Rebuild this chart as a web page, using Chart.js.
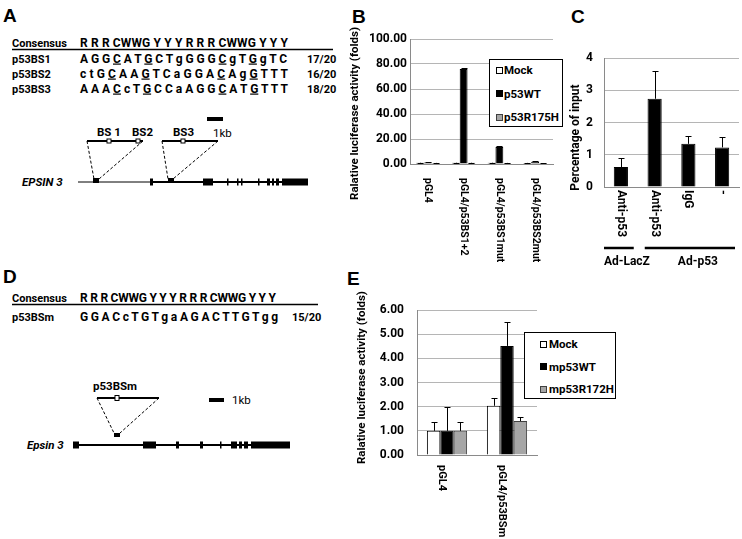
<!DOCTYPE html>
<html>
<head>
<meta charset="utf-8">
<script src="https://cdn.jsdelivr.net/npm/chart.js@4.4.1/dist/chart.umd.min.js"></script>
<style>
  html, body { margin: 0; padding: 0; background: #fff; }
  body { width: 742px; height: 539px; position: relative; overflow: hidden; font-family: Roboto, 'Open Sans', sans-serif; }
  .abs { position: absolute; }
  .legend { position: absolute; border: 1px solid #000; background: #fff; box-sizing: border-box; font: bold 11.5px Roboto, sans-serif; color: #000; }
  .legend__item { position: absolute; left: 0; height: 14px; line-height: 14px; white-space: nowrap; }
  .legend__swatch { position: absolute; top: 50%; box-sizing: border-box; border: 1px solid #000; }
  .legend__text { position: absolute; top: 0; }
  #legendB { left: 489px; top: 59px; width: 74px; height: 68px; }
  #legendE { left: 524px; top: 332px; width: 92px; height: 67px; }
</style>
</head>
<body>

<!-- Panels A and D: binding sites and gene maps -->
<svg class="abs" style="left:0;top:0" width="742" height="539" font-family="Roboto, sans-serif" font-size="11">
  <g font-family="'Liberation Sans', Arial, sans-serif" font-weight="bold" font-size="19">
    <text x="3" y="22">A</text>
    <text x="352" y="23">B</text>
    <text x="571" y="23">C</text>
    <text x="3" y="283">D</text>
    <text x="347" y="285">E</text>
  </g>

  <!-- A: sequences -->
  <g font-weight="bold">
    <text x="12" y="47">Consensus</text>
    <text x="12" y="62.5">p53BS1</text>
    <text x="12" y="77.5">p53BS2</text>
    <text x="12" y="92.5">p53BS3</text>
    <text x="307" y="62.5">17/20</text>
    <text x="307" y="77.5">16/20</text>
    <text x="307" y="92.5">18/20</text>
  </g>
  <g font-weight="bold" font-size="12">
    <text x="80" y="47" textLength="208" lengthAdjust="spacing">R R R CWWG Y Y Y R R R CWWG Y Y Y</text>
    <text x="80" y="62.5" textLength="207" lengthAdjust="spacing">A G G <tspan style="text-decoration:underline">C</tspan> A T <tspan style="text-decoration:underline">G</tspan> C T g G G G <tspan style="text-decoration:underline">C</tspan> g T <tspan style="text-decoration:underline">G</tspan> g T C</text>
    <text x="80" y="77.5" textLength="208" lengthAdjust="spacing">c t G <tspan style="text-decoration:underline">C</tspan> A A <tspan style="text-decoration:underline">G</tspan> T C a G G A <tspan style="text-decoration:underline">C</tspan> A g <tspan style="text-decoration:underline">G</tspan> T T T</text>
    <text x="80" y="92.5" textLength="208" lengthAdjust="spacing">A A A <tspan style="text-decoration:underline">C</tspan> c T <tspan style="text-decoration:underline">G</tspan> C C a A G G <tspan style="text-decoration:underline">C</tspan> A T <tspan style="text-decoration:underline">G</tspan> T T T</text>
  </g>
  <line x1="12" y1="49.5" x2="333" y2="49.5" stroke="#000" stroke-width="1.5"/>

  <!-- A: gene map -->
  <rect x="207" y="117" width="16" height="4"/>
  <text x="213" y="137" font-size="11.5">1kb</text>
  <g font-weight="bold" font-size="11.5">
    <text x="97" y="136">BS 1</text>
    <text x="132" y="136">BS2</text>
    <text x="173" y="136">BS3</text>
  </g>
  <g stroke="#000" stroke-width="2">
    <line x1="87" y1="141" x2="143" y2="141"/>
    <line x1="162" y1="141" x2="218" y2="141"/>
  </g>
  <g fill="#fff" stroke="#000" stroke-width="1">
    <rect x="107" y="139" width="4" height="4"/>
    <rect x="136" y="139" width="4" height="4"/>
    <rect x="181" y="139" width="4" height="4"/>
  </g>
  <g stroke="#000" stroke-width="1" stroke-dasharray="3,2">
    <line x1="87" y1="141" x2="94" y2="179"/>
    <line x1="143" y1="141" x2="99" y2="179"/>
    <line x1="162" y1="141" x2="168" y2="179"/>
    <line x1="218" y1="141" x2="173" y2="179"/>
  </g>
  <rect x="93" y="178" width="6" height="5"/>
  <rect x="168" y="178" width="6" height="5"/>
  <line x1="78" y1="182" x2="150" y2="182" stroke="#000" stroke-width="1"/>
  <line x1="150" y1="182" x2="308" y2="182" stroke="#000" stroke-width="2"/>
  <g>
    <rect x="150" y="178.5" width="3" height="7"/>
    <rect x="203" y="178.5" width="10" height="7"/>
    <rect x="227" y="178.5" width="1.5" height="7"/>
    <rect x="237" y="178.5" width="1.5" height="7"/>
    <rect x="241" y="178.5" width="1.5" height="7"/>
    <rect x="258" y="178.5" width="1.5" height="7"/>
    <rect x="267" y="178.5" width="3" height="7"/>
    <rect x="272" y="178.5" width="2" height="7"/>
    <rect x="276" y="178.5" width="3" height="7"/>
    <rect x="282" y="178.5" width="26" height="7"/>
  </g>
  <text x="22" y="186" font-weight="bold" font-style="italic" font-size="11.5">EPSIN 3</text>

  <!-- D: sequence -->
  <g font-weight="bold">
    <text x="12" y="302">Consensus</text>
    <text x="12" y="321">p53BSm</text>
    <text x="292" y="321">15/20</text>
  </g>
  <g font-weight="bold" font-size="12">
    <text x="80" y="302" textLength="196" lengthAdjust="spacing">R R R CWWG Y Y Y R R R CWWG Y Y Y</text>
    <text x="80" y="321" textLength="198" lengthAdjust="spacing">G G A C c T G T g a A G A C T T G T g g</text>
  </g>
  <line x1="12" y1="304.5" x2="318" y2="304.5" stroke="#000" stroke-width="1.5"/>

  <!-- D: gene map -->
  <text x="93" y="390" font-weight="bold" font-size="11.5">p53BSm</text>
  <line x1="97" y1="398" x2="159" y2="398" stroke="#000" stroke-width="2"/>
  <rect x="115" y="395.5" width="4" height="5" fill="#fff" stroke="#000" stroke-width="1"/>
  <rect x="209" y="398" width="15" height="4"/>
  <text x="232" y="404" font-size="11.5">1kb</text>
  <g stroke="#000" stroke-width="1" stroke-dasharray="3,2">
    <line x1="97" y1="398" x2="114" y2="433"/>
    <line x1="159" y1="398" x2="120" y2="433"/>
  </g>
  <rect x="114" y="433" width="6" height="4"/>
  <line x1="73" y1="445" x2="290" y2="445" stroke="#000" stroke-width="2"/>
  <g>
    <rect x="73" y="441.5" width="6" height="7"/>
    <rect x="143" y="441.5" width="13" height="7"/>
    <rect x="176" y="441.5" width="3" height="7"/>
    <rect x="200" y="441.5" width="3" height="7"/>
    <rect x="220" y="441.5" width="1.5" height="7"/>
    <rect x="231" y="441.5" width="6" height="7"/>
    <rect x="239" y="441.5" width="3" height="7"/>
    <rect x="244" y="441.5" width="4" height="7"/>
    <rect x="251" y="441.5" width="39" height="7"/>
  </g>
  <text x="27" y="449" font-weight="bold" font-style="italic" font-size="11.5">Epsin 3</text>
</svg>

<canvas id="chartB" class="abs" style="left:340px;top:25px" width="225" height="245"></canvas>
<canvas id="chartC" class="abs" style="left:560px;top:40px" width="182" height="240"></canvas>
<canvas id="chartE" class="abs" style="left:340px;top:290px" width="290" height="249"></canvas>
<div id="legendB" class="legend"></div>
<div id="legendE" class="legend"></div>

<script>
// ── Panel B: luciferase reporter, p53 binding sites ──
const bCategories = ['pGL4', 'pGL4/p53BS1+2', 'pGL4/p53BS1mut', 'pGL4/p53BS2mut'];
const bMock = [1.0, 1.0, 1.0, 0.9];
const bMockErr = [0.2, 0.2, 0.2, 0.1];
const bWT = [1.3, 76.0, 13.7, 1.9];
const bWTErr = [0.3, 0.7, 0.7, 0.6];
const bR175H = [0.9, 1.0, 0.9, 0.8];
const bR175HErr = [0.2, 0.1, 0.1, 0.1];
const bTicks = [0, 20, 40, 60, 80, 100];

// ── Panel C: ChIP, percentage of input ──
const cCategories = ['Anti-p53', 'Anti-p53', 'IgG', '-'];
const cValues = [0.62, 2.74, 1.34, 1.23];
const cErr = [0.27, 0.87, 0.24, 0.31];
const cGroups = ['Ad-LacZ', 'Ad-p53'];
const cGroupSpans = [[0, 0], [1, 3]];
const cTicks = [0, 1, 2, 3, 4];

// ── Panel E: luciferase reporter, mouse p53 ──
const eCategories = ['pGL4', 'pGL4/p53BSm'];
const eMock = [1.0, 2.04];
const eMockErr = [0.37, 0.33];
const eWT = [1.0, 4.52];
const eWTErr = [1.0, 1.0];
const eR172H = [1.0, 1.41];
const eR172HErr = [0.35, 0.16];
const eTicks = [0, 1, 2, 3, 4, 5, 6];

const FONT = 'Roboto';
const GRID = '#b5b5b5';
const AXIS = '#8a8a8a';

// ── error bars: upper whisker only ──
const errorBars = {
  id: 'errorBars',
  afterDatasetsDraw(chart) {
    const { ctx, scales: { y } } = chart;
    ctx.save();
    ctx.strokeStyle = '#000';
    ctx.lineWidth = 1;
    chart.data.datasets.forEach((ds, di) => {
      if (!ds.errors) return;
      chart.getDatasetMeta(di).data.forEach((bar, i) => {
        const top = Math.round(y.getPixelForValue(ds.data[i] + ds.errors[i])) + 0.5;
        const x = Math.round(bar.x) + 0.5;
        ctx.beginPath();
        ctx.moveTo(x, bar.y);
        ctx.lineTo(x, top);
        ctx.moveTo(x - 3, top);
        ctx.lineTo(x + 3, top);
        ctx.stroke();
      });
    });
    ctx.restore();
  }
};

// ── category labels reading downwards, plus optional group bars ──
const downLabels = {
  id: 'downLabels',
  afterDraw(chart, args, opts) {
    const { ctx } = chart;
    const xs = chart.scales.x;
    ctx.save();
    ctx.font = `bold ${opts.size}px ${FONT}`;
    ctx.fillStyle = '#000';
    ctx.textAlign = 'left';
    ctx.textBaseline = 'middle';
    chart.data.labels.forEach((label, i) => {
      ctx.save();
      ctx.translate(xs.getPixelForTick(i) + (opts.dx || 0), xs.top + opts.gap);
      ctx.rotate(Math.PI / 2);
      ctx.fillText(label, 0, 0);
      ctx.restore();
    });
    if (opts.groups) {
      const half = (xs.getPixelForTick(1) - xs.getPixelForTick(0)) / 2;
      ctx.lineWidth = 2.5;
      ctx.strokeStyle = '#000';
      ctx.textAlign = 'center';
      ctx.font = `bold 12px ${FONT}`;
      opts.groups.forEach((name, g) => {
        const [from, to] = opts.spans[g];
        const x0 = xs.getPixelForTick(from) - half + (g === 0 ? 0 : 7);
        const x1 = xs.getPixelForTick(to) + half - 4;
        ctx.beginPath();
        ctx.moveTo(x0, xs.top + opts.lineGap);
        ctx.lineTo(x1, xs.top + opts.lineGap);
        ctx.stroke();
        ctx.fillText(name, (x0 + x1) / 2 + opts.textDx, xs.top + opts.textGap);
      });
    }
    ctx.restore();
  }
};

// ── rotated y-axis title, placed like the spreadsheet original ──
const sideTitle = {
  id: 'sideTitle',
  afterDraw(chart, args, opts) {
    const { ctx, chartArea } = chart;
    ctx.save();
    ctx.font = `bold ${opts.size}px ${FONT}`;
    ctx.fillStyle = '#000';
    ctx.textAlign = 'center';
    ctx.textBaseline = 'middle';
    ctx.translate(chartArea.left - opts.dx, (chartArea.top + chartArea.bottom) / 2 + opts.dy);
    ctx.rotate(-Math.PI / 2);
    ctx.fillText(chart.options.scales.y.title.text, 0, 0);
    ctx.restore();
  }
};

function barOptions(o) {
  return {
    responsive: false,
    animation: false,
    devicePixelRatio: 1,
    layout: { padding: { top: o.padTop, right: o.padRight, left: 0, bottom: 0 } },
    plugins: {
      legend: { display: false },
      tooltip: { enabled: false },
      downLabels: o.labels,
      sideTitle: o.title
    },
    scales: {
      x: {
        ticks: { display: false },
        grid: { display: false },
        border: { color: AXIS, width: 1 },
        afterFit: s => { s.height = o.xHeight; }
      },
      y: {
        min: o.ticks[0],
        max: o.ticks[o.ticks.length - 1],
        afterBuildTicks: s => { s.ticks = o.ticks.map(v => ({ value: v })); },
        afterFit: s => { s.width = o.yWidth; },
        ticks: {
          padding: o.tickPad,
          color: '#000',
          font: { family: FONT, size: 12, weight: 'bold' },
          callback: o.fmt
        },
        grid: { color: GRID, lineWidth: 1, drawTicks: false },
        border: { color: AXIS, width: 1 },
        title: { display: false, text: o.yTitle }
      }
    }
  };
}

function buildLegend(chart, el, rowTop, rowStep, swatchX, swatchSize, textX) {
  chart.data.datasets.forEach((ds, i) => {
    const item = document.createElement('div');
    item.className = 'legend__item';
    item.style.top = (rowTop + i * rowStep - 7) + 'px';
    item.innerHTML = `
      <span class="legend__swatch" style="left:${swatchX}px;width:${swatchSize}px;height:${swatchSize}px;margin-top:${-swatchSize / 2}px;background:${ds.backgroundColor};border-color:${ds.borderColor}"></span>
      <span class="legend__text" style="left:${textX}px">${ds.label}</span>`;
    el.appendChild(item);
  });
}

const mockStyle = { backgroundColor: '#ffffff', borderColor: '#000000', borderWidth: 1 };
const wtStyle = { backgroundColor: '#000000', borderColor: '#000000', borderWidth: 1 };
const mutStyle = { backgroundColor: '#a6a6a6', borderColor: '#404040', borderWidth: 1 };

// Chart B
const chartB = new Chart(document.getElementById('chartB'), {
  type: 'bar',
  data: {
    labels: bCategories,
    datasets: [
      { label: 'Mock', data: bMock, errors: bMockErr, ...mockStyle },
      { label: 'p53WT', data: bWT, errors: bWTErr, ...wtStyle },
      { label: 'p53R175H', data: bR175H, errors: bR175HErr, ...mutStyle }
    ].map(d => ({ ...d, categoryPercentage: 0.66, barPercentage: 1.0 }))
  },
  options: barOptions({
    padTop: 14, padRight: 12, xHeight: 106, yWidth: 70, tickPad: 3,
    ticks: bTicks, fmt: v => v.toFixed(2),
    yTitle: 'Ralative luciferase activity (folds)',
    labels: { gap: 14, size: 10.5 },
    title: { dx: 55, dy: 12, size: 11.5 }
  }),
  plugins: [errorBars, downLabels, sideTitle]
});
buildLegend(chartB, document.getElementById('legendB'), 10, 23.5, 6, 7, 14);

// Chart C
new Chart(document.getElementById('chartC'), {
  type: 'bar',
  data: {
    labels: cCategories,
    datasets: [
      { label: 'Percentage of input', data: cValues, errors: cErr, ...wtStyle, categoryPercentage: 1.0, barPercentage: 0.42 }
    ]
  },
  options: barOptions({
    padTop: 17, padRight: 3, xHeight: 93, yWidth: 44, tickPad: 11,
    ticks: cTicks, fmt: v => String(v),
    yTitle: 'Percentage of input',
    labels: { gap: 3, size: 12, groups: cGroups, spans: cGroupSpans, lineGap: 61, textGap: 75, textDx: 8 },
    title: { dx: 28, dy: 15, size: 12 }
  }),
  plugins: [errorBars, downLabels, sideTitle]
});

// Chart E
const chartE = new Chart(document.getElementById('chartE'), {
  type: 'bar',
  data: {
    labels: eCategories,
    datasets: [
      { label: 'Mock', data: eMock, errors: eMockErr, ...mockStyle },
      { label: 'mp53WT', data: eWT, errors: eWTErr, ...wtStyle },
      { label: 'mp53R172H', data: eR172H, errors: eR172HErr, ...mutStyle }
    ].map(d => ({ ...d, categoryPercentage: 0.67, barPercentage: 1.0 }))
  },
  options: barOptions({
    padTop: 19, padRight: 93, xHeight: 84, yWidth: 77, tickPad: 13,
    ticks: eTicks, fmt: v => v.toFixed(2),
    yTitle: 'Ralative luciferase activity (folds)',
    labels: { gap: 10, dx: -5, size: 11 },
    title: { dx: 55, dy: -5, size: 11.5 }
  }),
  plugins: [errorBars, downLabels, sideTitle]
});
buildLegend(chartE, document.getElementById('legendE'), 11, 22.5, 15, 7, 24);
</script>
</body>
</html>
